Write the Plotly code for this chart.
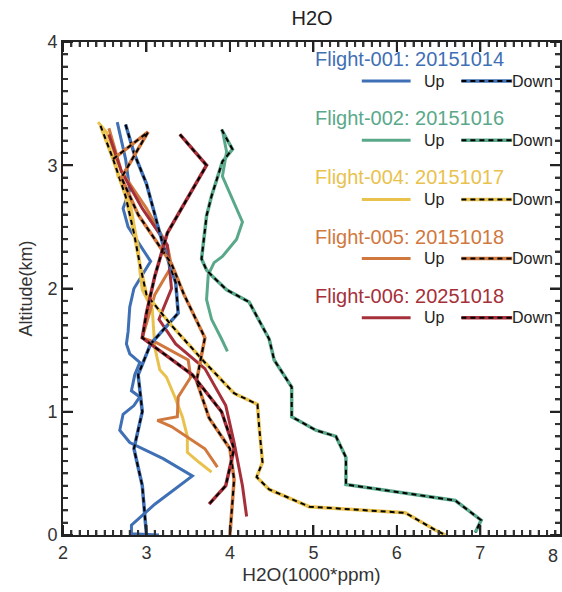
import plotly.graph_objects as go

# Flight profiles: H2O (1000*ppm) against altitude (km)
flights = ["Flight-001: 20151014", "Flight-002: 20151016", "Flight-004: 20151017",
           "Flight-005: 20151018", "Flight-006: 20251018"]
colors = ["#3f6fb5", "#5aa88a", "#e9c24e", "#d0783e", "#a5303a"]

f001_up_h2o = [2.65, 2.75, 2.80, 2.72, 2.78, 3.05, 2.85, 2.80, 2.78, 2.76, 2.80, 2.92, 2.86, 2.82, 2.92, 2.85, 2.72, 2.68, 2.80, 3.20, 3.55, 3.10, 2.82, 2.82, 3.15]
f001_up_alt = [3.35, 3.05, 2.80, 2.65, 2.50, 2.22, 2.00, 1.85, 1.65, 1.55, 1.47, 1.40, 1.30, 1.17, 1.12, 1.05, 0.98, 0.85, 0.75, 0.62, 0.48, 0.25, 0.08, 0.01, 0.00]
f001_dn_h2o = [2.75, 2.85, 3.00, 3.10, 3.20, 3.35, 3.38, 3.05, 2.90, 2.95, 2.85, 2.95, 2.98, 3.00]
f001_dn_alt = [3.33, 3.10, 2.85, 2.60, 2.35, 2.05, 1.80, 1.55, 1.30, 1.00, 0.70, 0.40, 0.15, 0.00]

f002_up_h2o = [3.91, 3.96, 3.91, 4.03, 4.15, 4.08, 3.91, 3.81, 3.74, 3.72, 3.78, 3.90, 3.97]
f002_up_alt = [3.28, 3.11, 2.91, 2.72, 2.54, 2.40, 2.26, 2.21, 2.11, 1.91, 1.75, 1.59, 1.49]
f002_dn_h2o = [3.90, 4.03, 3.91, 3.78, 3.72, 3.67, 3.66, 3.72, 3.79, 3.96, 4.23, 4.47, 4.53, 4.74, 4.74, 5.03, 5.27, 5.39, 5.39, 6.70, 7.01, 6.94]
f002_dn_alt = [3.29, 3.13, 3.03, 2.75, 2.59, 2.32, 2.24, 2.15, 2.10, 1.99, 1.89, 1.59, 1.42, 1.20, 0.96, 0.85, 0.80, 0.63, 0.41, 0.28, 0.12, 0.02]

f004_up_h2o = [2.42, 2.52, 2.60, 2.66, 2.76, 2.82, 2.86, 2.90, 2.92, 2.95, 3.07, 3.10, 3.16, 3.24, 3.34, 3.43, 3.49, 3.49, 3.63, 3.78]
f004_up_alt = [3.35, 3.27, 3.13, 2.91, 2.80, 2.64, 2.48, 2.34, 2.15, 1.99, 1.83, 1.52, 1.34, 1.28, 1.12, 0.96, 0.80, 0.67, 0.59, 0.51]
f004_dn_h2o = [2.45, 2.60, 2.75, 2.85, 2.92, 3.00, 3.30, 3.70, 4.05, 4.33, 4.35, 4.39, 4.32, 4.47, 4.95, 6.10, 6.46, 6.58]
f004_dn_alt = [3.32, 3.05, 2.75, 2.45, 2.20, 1.95, 1.70, 1.40, 1.15, 1.06, 0.88, 0.59, 0.47, 0.37, 0.23, 0.18, 0.04, 0.00]

f005_up_h2o = [2.55, 2.70, 3.00, 3.25, 3.30, 3.10, 2.95, 3.12, 3.50, 3.53, 3.38, 3.37, 3.13, 3.30, 3.70, 3.85]
f005_up_alt = [3.30, 2.95, 2.65, 2.35, 2.18, 1.95, 1.60, 1.56, 1.42, 1.28, 1.12, 0.96, 0.93, 0.88, 0.70, 0.55]
f005_dn_h2o = [2.60, 3.02, 2.70, 2.90, 3.30, 3.45, 3.70, 3.60, 3.75, 4.00, 4.05, 4.02, 4.00]
f005_dn_alt = [3.05, 3.27, 2.90, 2.60, 2.20, 1.95, 1.60, 1.25, 0.95, 0.70, 0.45, 0.20, 0.00]

f006_up_h2o = [2.55, 2.70, 2.95, 3.25, 3.30, 3.15, 3.35, 3.70, 3.95, 4.05, 4.15, 4.20]
f006_up_alt = [3.25, 2.95, 2.65, 2.35, 2.00, 1.75, 1.55, 1.35, 1.05, 0.75, 0.40, 0.15]
f006_dn_h2o = [3.40, 3.72, 3.25, 3.10, 3.00, 2.95, 3.55, 3.90, 4.05, 3.95, 3.75]
f006_dn_alt = [3.25, 3.00, 2.45, 2.10, 1.80, 1.60, 1.30, 1.00, 0.70, 0.40, 0.25]

up_series = [(f001_up_h2o, f001_up_alt), (f002_up_h2o, f002_up_alt), (f004_up_h2o, f004_up_alt),
             (f005_up_h2o, f005_up_alt), (f006_up_h2o, f006_up_alt)]
down_series = [(f001_dn_h2o, f001_dn_alt), (f002_dn_h2o, f002_dn_alt), (f004_dn_h2o, f004_dn_alt),
               (f005_dn_h2o, f005_dn_alt), (f006_dn_h2o, f006_dn_alt)]

x_ticks = [2, 3, 4, 5, 6, 7, 8]
y_ticks = [0, 1, 2, 3, 4]
minor_step = 0.1

fig = go.Figure()

for i, (xs, ys) in enumerate(up_series):
    fig.add_trace(go.Scatter(x=xs, y=ys, mode="lines", name=flights[i] + " Up",
                             line=dict(color=colors[i], width=3), showlegend=False))

# Descending legs: coloured line with black dashes laid on top
for i, (xs, ys) in enumerate(down_series):
    fig.add_trace(go.Scatter(x=xs, y=ys, mode="lines", name=flights[i] + " Down",
                             line=dict(color=colors[i], width=3.5), showlegend=False))
    fig.add_trace(go.Scatter(x=xs, y=ys, mode="lines", showlegend=False, hoverinfo="skip",
                             line=dict(color="black", width=2, dash="5px,4px")))

font_family = "Liberation Sans, Arial, sans-serif"

W, H = 562, 592
L, R, T, B = 63, 0, 42, 57
pw, ph = W - L - R, H - T - B
x_max = x_ticks[0] + pw / 83.8

def px(xpix):
    return (xpix - L) / pw

def py(ypix):
    return 1 - (ypix - T) / ph

# Hand-made legend block in the upper right of the plot
for i, name in enumerate(flights):
    ty = 59 + 59.2 * i
    ry = 81 + 59.2 * i
    fig.add_annotation(xref="paper", yref="paper", x=px(314), y=py(ty), text=name,
                       showarrow=False, xanchor="left", yanchor="middle",
                       font=dict(family=font_family, size=20, color=colors[i]))
    fig.add_shape(type="line", xref="paper", yref="paper", x0=px(363), x1=px(412),
                  y0=py(ry), y1=py(ry), line=dict(color=colors[i], width=3))
    fig.add_annotation(xref="paper", yref="paper", x=px(423), y=py(ry), text="Up",
                       showarrow=False, xanchor="left", yanchor="middle",
                       font=dict(family=font_family, size=16, color="#222"))
    fig.add_shape(type="line", xref="paper", yref="paper", x0=px(463), x1=px(514),
                  y0=py(ry), y1=py(ry), line=dict(color=colors[i], width=3.5))
    fig.add_shape(type="line", xref="paper", yref="paper", x0=px(463), x1=px(514),
                  y0=py(ry), y1=py(ry), line=dict(color="black", width=2, dash="5px,4px"))
    fig.add_annotation(xref="paper", yref="paper", x=px(512), y=py(ry), text="Down",
                       showarrow=False, xanchor="left", yanchor="middle",
                       font=dict(family=font_family, size=16, color="#222"))

# Last x tick label, kept inside the page edge
fig.add_annotation(xref="paper", yref="paper", x=px(555), y=py(556), text=str(x_ticks[-1]),
                   showarrow=False, xanchor="center", yanchor="middle",
                   font=dict(family=font_family, size=18, color="#333"))

# Inward tick marks on all four sides of the frame (major every unit, minor every 0.1)
major_len, minor_len = 10, 5
tick_line_major = dict(color="#222", width=2)
tick_line_minor = dict(color="#333", width=2)

n_x = int(round((x_ticks[-1] - x_ticks[0]) / minor_step))
for k in range(n_x + 1):
    v = round(x_ticks[0] + k * minor_step, 3)
    if v > x_max:
        break
    major = abs(v - round(v)) < 1e-6
    ln = (major_len if major else minor_len) / ph
    style = tick_line_major if major else tick_line_minor
    fig.add_shape(type="line", xref="x", yref="paper", x0=v, x1=v, y0=0, y1=ln, line=style)
    fig.add_shape(type="line", xref="x", yref="paper", x0=v, x1=v, y0=1, y1=1 - ln, line=style)

n_y = int(round((y_ticks[-1] - y_ticks[0]) / minor_step))
for k in range(n_y + 1):
    v = round(y_ticks[0] + k * minor_step, 3)
    major = abs(v - round(v)) < 1e-6
    ln = (major_len if major else minor_len) / pw
    style = tick_line_major if major else tick_line_minor
    fig.add_shape(type="line", xref="paper", yref="y", x0=0, x1=ln, y0=v, y1=v, line=style)
    fig.add_shape(type="line", xref="paper", yref="y", x0=1, x1=1 - ln, y0=v, y1=v, line=style)

fig.update_layout(
    width=W, height=H,
    margin=dict(l=L, r=R, t=T, b=B),
    paper_bgcolor="white", plot_bgcolor="white",
    title=dict(text="H2O", x=312 / W, xanchor="center", y=1 - 18 / H, yanchor="middle",
               font=dict(family=font_family, size=20, color="#222")),
)

axis_style = dict(showline=True, linecolor="#222", linewidth=2, mirror="allticks",
                  ticks="inside", ticklen=major_len, tickwidth=2, tickcolor="#222",
                  minor=dict(ticks="inside", ticklen=minor_len, tickwidth=2,
                             tickcolor="#333", dtick=minor_step),
                  showgrid=False, zeroline=False,
                  tickfont=dict(family=font_family, size=18, color="#333"))

fig.update_xaxes(range=[x_ticks[0], x_max], dtick=x_ticks[1] - x_ticks[0],
                 title=dict(text="H2O(1000*ppm)", standoff=6,
                            font=dict(family=font_family, size=19, color="#333")),
                 **axis_style)
fig.update_yaxes(range=[y_ticks[0], y_ticks[-1]], dtick=y_ticks[1] - y_ticks[0],
                 title=dict(text="Altitude(km)", standoff=10,
                            font=dict(family=font_family, size=18, color="#333")),
                 **axis_style)

fig.write_html("out.html")
